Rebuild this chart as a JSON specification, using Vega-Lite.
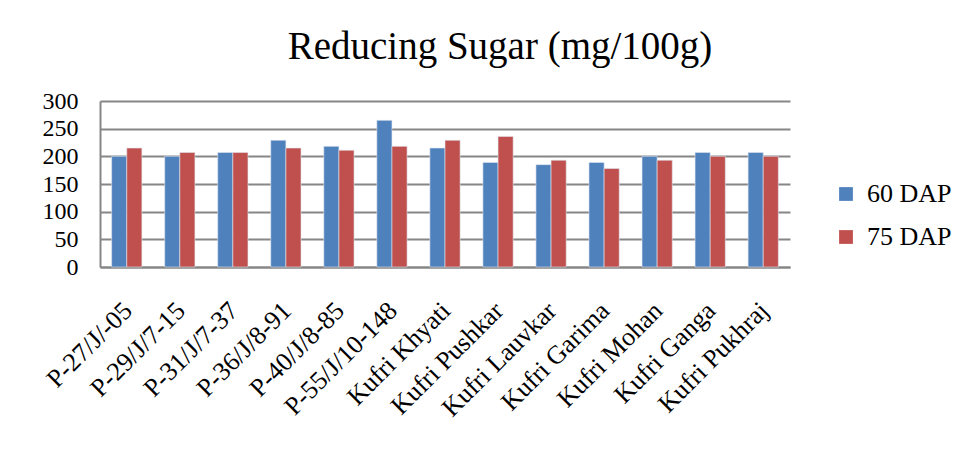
{
  "$schema": "https://vega.github.io/schema/vega-lite/v6.json",
  "width": 690,
  "height": 166,
  "autosize": {"type": "none"},
  "padding": {"left": 100, "top": 101, "right": 176, "bottom": 189},
  "background": "white",
  "title": {
    "text": "Reducing Sugar (mg/100g)",
    "font": "Liberation Serif",
    "fontSize": 39,
    "fontWeight": "normal",
    "color": "black",
    "anchor": "middle",
    "baseline": "alphabetic",
    "offset": -9,
    "dx": 55
  },
  "data": {
    "values": [
      {"variety": "P-27/J/-05", "stage": "60 DAP", "value": 200},
      {"variety": "P-27/J/-05", "stage": "75 DAP", "value": 215},
      {"variety": "P-29/J/7-15", "stage": "60 DAP", "value": 200},
      {"variety": "P-29/J/7-15", "stage": "75 DAP", "value": 207},
      {"variety": "P-31/J/7-37", "stage": "60 DAP", "value": 207},
      {"variety": "P-31/J/7-37", "stage": "75 DAP", "value": 207},
      {"variety": "P-36/J/8-91", "stage": "60 DAP", "value": 229},
      {"variety": "P-36/J/8-91", "stage": "75 DAP", "value": 215},
      {"variety": "P-40/J/8-85", "stage": "60 DAP", "value": 218},
      {"variety": "P-40/J/8-85", "stage": "75 DAP", "value": 211},
      {"variety": "P-55/J/10-148", "stage": "60 DAP", "value": 265},
      {"variety": "P-55/J/10-148", "stage": "75 DAP", "value": 218},
      {"variety": "Kufri Khyati", "stage": "60 DAP", "value": 215},
      {"variety": "Kufri Khyati", "stage": "75 DAP", "value": 229},
      {"variety": "Kufri Pushkar", "stage": "60 DAP", "value": 189},
      {"variety": "Kufri Pushkar", "stage": "75 DAP", "value": 236},
      {"variety": "Kufri Lauvkar", "stage": "60 DAP", "value": 185},
      {"variety": "Kufri Lauvkar", "stage": "75 DAP", "value": 193},
      {"variety": "Kufri Garima", "stage": "60 DAP", "value": 189},
      {"variety": "Kufri Garima", "stage": "75 DAP", "value": 178},
      {"variety": "Kufri Mohan", "stage": "60 DAP", "value": 200},
      {"variety": "Kufri Mohan", "stage": "75 DAP", "value": 193},
      {"variety": "Kufri Ganga", "stage": "60 DAP", "value": 207},
      {"variety": "Kufri Ganga", "stage": "75 DAP", "value": 200},
      {"variety": "Kufri Pukhraj", "stage": "60 DAP", "value": 207},
      {"variety": "Kufri Pukhraj", "stage": "75 DAP", "value": 200}
    ]
  },
  "mark": {"type": "bar", "stroke": "#dfe6f0", "strokeWidth": 0.6},
  "encoding": {
    "x": {
      "field": "variety",
      "type": "nominal",
      "sort": null,
      "title": null,
      "scale": {"paddingInner": 0.43, "paddingOuter": 0.22},
      "axis": {
        "labelAngle": -45,
        "labelFont": "Liberation Serif",
        "labelFontSize": 26,
        "labelColor": "black",
        "labelPadding": 30,
        "labelOffset": -8,
        "ticks": false,
        "domainColor": "#868686",
        "domainWidth": 2,
        "labelLimit": 300
      }
    },
    "xOffset": {"field": "stage", "type": "nominal", "scale": {"paddingInner": 0}},
    "y": {
      "field": "value",
      "type": "quantitative",
      "title": null,
      "scale": {"domain": [0, 300], "nice": false},
      "axis": {
        "values": [0, 50, 100, 150, 200, 250, 300],
        "labelFont": "Liberation Serif",
        "labelFontSize": 24,
        "labelColor": "black",
        "labelPadding": 22,
        "ticks": false,
        "domainColor": "#868686",
        "domainWidth": 2,
        "gridColor": "#868686",
        "gridWidth": 2
      }
    },
    "color": {
      "field": "stage",
      "type": "nominal",
      "title": null,
      "scale": {"domain": ["60 DAP", "75 DAP"], "range": ["#4F81BD", "#C0504D"]},
      "legend": {
        "orient": "none",
        "legendX": 733,
        "legendY": 80,
        "symbolType": "square",
        "symbolSize": 190,
        "symbolStrokeWidth": 0,
        "labelFont": "Liberation Serif",
        "labelFontSize": 26,
        "labelColor": "black",
        "labelOffset": 8,
        "rowPadding": 17
      }
    }
  },
  "config": {"view": {"stroke": null}}
}
